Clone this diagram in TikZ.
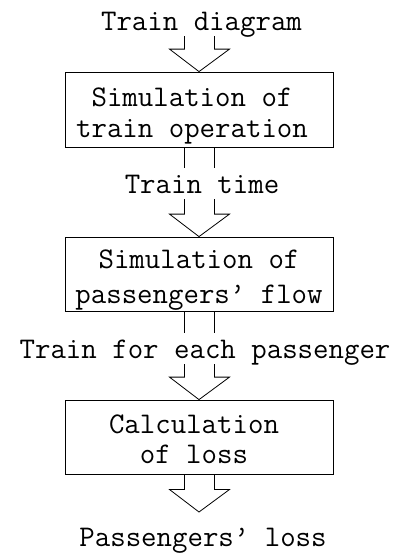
\documentclass[tikz,border=0pt]{standalone}
\usetikzlibrary{calc}
\begin{document}
\begin{tikzpicture}[x=1pt,y=-1pt,
  txt/.style={font=\ttfamily\fontsize{30}{31}\selectfont, inner xsep=0pt, inner ysep=6pt,
              text height=19pt, text depth=0pt, anchor=base},
  boxtxt/.style={font=\ttfamily\fontsize{30}{31}\selectfont, inner sep=0pt, align=center, anchor=base},
  procbox/.style={draw, line width=0.8pt, minimum width=268pt, inner sep=0pt},
  fat/.style={draw, line width=0.8pt, line join=miter}
]
\useasboundingbox (0,0) rectangle (396,554);
% vertical guide coordinates of the hollow arrows
\coordinate (L) at (184.5,0);
\coordinate (R) at (214.5,0);
\coordinate (LL) at (169.5,0);
\coordinate (RR) at (229.5,0);

\node[txt] (t0) at (201.5,30) {Train diagram};
\node[procbox, minimum height=75pt] (b1) at (199,109.5) {};
\node[boxtxt] (b1t) at (192,137) {Simulation of\\train operation};
\node[txt] (t1) at (202,193) {Train time};
\node[procbox, minimum height=74pt] (b2) at (199,274) {};
\node[boxtxt] (b2t) at (199,303) {Simulation of\\[4pt]passengers’ flow};
\node[txt] (t2) at (205,358) {Train for each passenger};
\node[procbox, minimum height=74pt] (b3) at (199,437) {};
\node[boxtxt] (b3t) at (194,463) {Calculation\\[-1pt]of loss};
\coordinate (end) at (199,512);
\node[txt] (t3) at (203,546.5) {Passengers’ loss};

% arrow 1
\draw[fat] (t0.south -| L) -- ([yshift=22.5pt]b1.north -| L) -- ([yshift=22.5pt]b1.north -| LL)
  -- (b1.north) -- ([yshift=22.5pt]b1.north -| RR) -- ([yshift=22.5pt]b1.north -| R) -- (t0.south -| R);
% arrow 2
\draw[fat] (b1.south -| L) -- (t1.north -| L);
\draw[fat] (b1.south -| R) -- (t1.north -| R);
\draw[fat] (t1.south -| L) -- ([yshift=22.5pt]b2.north -| L) -- ([yshift=22.5pt]b2.north -| LL)
  -- (b2.north) -- ([yshift=22.5pt]b2.north -| RR) -- ([yshift=22.5pt]b2.north -| R) -- (t1.south -| R);
% arrow 3
\draw[fat] (b2.south -| L) -- (t2.north -| L);
\draw[fat] (b2.south -| R) -- (t2.north -| R);
\draw[fat] (t2.south -| L) -- ([yshift=22.5pt]b3.north -| L) -- ([yshift=22.5pt]b3.north -| LL)
  -- (b3.north) -- ([yshift=22.5pt]b3.north -| RR) -- ([yshift=22.5pt]b3.north -| R) -- (t2.south -| R);
% arrow 4
\draw[fat] (b3.south -| L) -- ([yshift=22.5pt]end -| L) -- ([yshift=22.5pt]end -| LL)
  -- (end) -- ([yshift=22.5pt]end -| RR) -- ([yshift=22.5pt]end -| R) -- (b3.south -| R);
\end{tikzpicture}
\end{document}
